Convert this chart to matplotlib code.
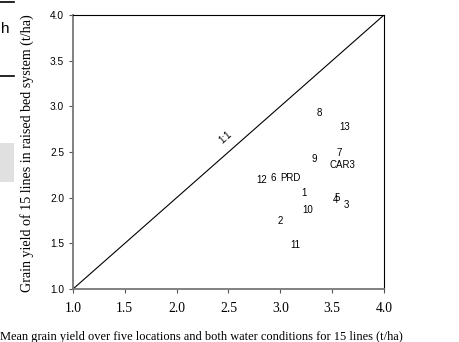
import matplotlib
matplotlib.use("Agg")
import matplotlib.pyplot as plt
from matplotlib.patches import Rectangle
from matplotlib.lines import Line2D

labels = ["8", "13", "7", "CAR3", "9", "12", "6", "PRD", "1", "5", "4", "3", "10", "2", "11"]
mean_yield = [3.38, 3.62, 3.57, 3.60, 3.33, 2.82, 2.93, 3.10, 3.23, 3.55, 3.53, 3.64, 3.26, 3.00, 3.14]
raised_bed = [2.93, 2.77, 2.49, 2.36, 2.42, 2.19, 2.22, 2.22, 2.05, 2.00, 1.97, 1.92, 1.87, 1.74, 1.48]
ticks = [1.0, 1.5, 2.0, 2.5, 3.0, 3.5, 4.0]

fig = plt.figure(figsize=(4.59, 3.42), dpi=100)
ax = fig.add_axes([73/459, 1-289/342, (384-73)/459, (289-15)/342])

ax.plot([1, 4], [1, 4], color="black", lw=0.8)
ax.text(2.47, 2.66, "1:1", rotation=41, ha="center", va="center",
        fontsize=7, family="Liberation Sans")

for lab, x, y in zip(labels, mean_yield, raised_bed):
    ax.text(x, y, lab, ha="center", va="center", fontsize=7, family="Liberation Sans")

ax.set_xlim(1, 4)
ax.set_ylim(1, 4)
ax.set_xticks(ticks)
ax.set_yticks(ticks)
ax.set_xticklabels([f"{t:.1f}" for t in ticks], family="Liberation Serif", fontsize=9.8)
ax.set_yticklabels([f"{t:.1f}" for t in ticks], family="Liberation Sans", fontsize=7.3)
ax.tick_params(axis="both", length=3, width=0.8, direction="out", color="#555555")
ax.tick_params(axis="x", pad=6)

for s in ["left", "bottom"]:
    ax.spines[s].set_color("#777777")
    ax.spines[s].set_linewidth(1.3)
for s in ["top", "right"]:
    ax.spines[s].set_color("black")
    ax.spines[s].set_linewidth(0.8)

fig.text(201/459, 1-337/342, "Mean grain yield over five locations and both water conditions for 15 lines (t/ha)",
         ha="center", va="center", fontsize=8.9, family="Liberation Serif")
fig.text(27.5/459, 1-153/342, "Grain yield of 15 lines in raised bed system (t/ha)",
         ha="center", va="center", rotation=90, fontsize=10.1, family="Liberation Serif")

# page-crop artifacts at the left edge
fig.add_artist(Rectangle((0, 1-182/342), 14/459, 39/342, transform=fig.transFigure,
                         facecolor="#e0e0e0", edgecolor="none"))
fig.add_artist(Line2D([0, 14/459], [1-2/342, 1-2/342], transform=fig.transFigure, color="black", lw=1.2))
fig.add_artist(Line2D([0, 14/459], [1-76/342, 1-76/342], transform=fig.transFigure, color="black", lw=1.2))
fig.text(0.5/459, 1-29/342, "h", ha="left", va="center", fontsize=11, family="Liberation Sans")

fig.savefig("out.png", dpi=100)
